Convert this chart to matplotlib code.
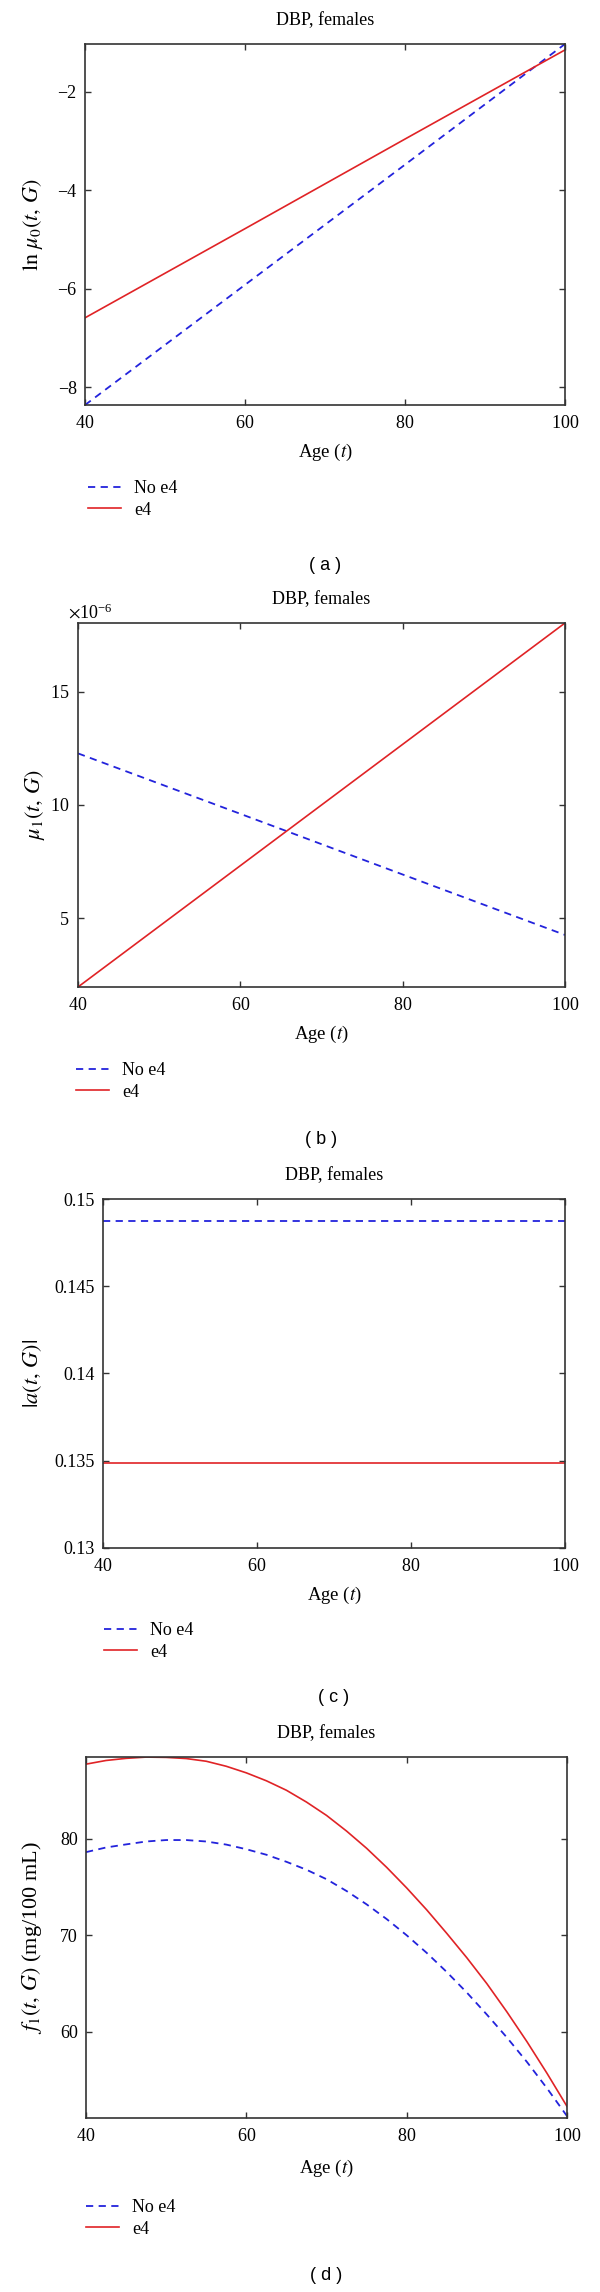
import matplotlib
matplotlib.use("Agg")
import matplotlib.pyplot as plt
from matplotlib.ticker import ScalarFormatter, FuncFormatter

plt.rcParams["font.family"] = ["Liberation Serif", "DejaVu Serif"]
plt.rcParams["mathtext.fontset"] = "stix"
plt.rcParams["axes.formatter.use_mathtext"] = True

# ---- data ----
AGE_LIN = [40, 60, 80, 100]
LN_MU0_NO_E4 = [-8.36, -5.92, -3.48, -1.03]
LN_MU0_E4 = [-6.59, -4.78, -2.96, -1.15]

MU1_NO_E4 = [12.28e-6, 9.61e-6, 6.93e-6, 4.26e-6]
MU1_E4 = [1.96e-6, 7.32e-6, 12.68e-6, 18.04e-6]

A_NO_E4 = [0.14874, 0.14874, 0.14874, 0.14874]
A_E4 = [0.13487, 0.13487, 0.13487, 0.13487]

AGE_F1 = [40, 42.5, 45, 47.5, 50, 52.5, 55, 57.5, 60, 62.5, 65, 67.5, 70,
          72.5, 75, 77.5, 80, 82.5, 85, 87.5, 90, 92.5, 95, 97.5, 100]
F1_NO_E4 = [78.6, 79.08, 79.4, 79.7, 79.85, 79.85, 79.7, 79.38, 78.9, 78.33,
            77.6, 76.78, 75.8, 74.58, 73.2, 71.68, 70.0, 68.18, 66.2, 64.08,
            61.8, 59.43, 56.9, 54.18, 51.3]
F1_E4 = [87.7, 88.08, 88.3, 88.43, 88.4, 88.28, 88.0, 87.48, 86.8, 85.98,
         85.0, 83.78, 82.4, 80.78, 79.0, 77.03, 74.9, 72.63, 70.2, 67.68,
         65.0, 62.08, 59.0, 55.73, 52.3]

X_TICKS = [40, 60, 80, 100]
YT_A = [-8, -6, -4, -2]
YT_B = [5e-6, 10e-6, 15e-6]
YT_C = [0.13, 0.135, 0.14, 0.145, 0.15]
YT_D = [60, 70, 80]

TITLE = "DBP, females"
LABELS = ["No e4", "e4"]
BLUE = "#2323dc"
RED = "#e02326"

W, H = 600, 2292
fig = plt.figure(figsize=(W / 100, H / 100), dpi=100)


def px_rect(l, r, t, b):
    return [l / W, 1 - b / H, (r - l) / W, (b - t) / H]


panels = [
    # (l, r, t, b), ylabel, ylabel x, legend (x, top), caption y, caption
    ((85, 565, 44, 405), r"$\ln\,\mu_0(t,\,G)$", 33, (88, 480), 565, "( a )"),
    ((78, 565, 623, 987), r"$\mu_1(t,\,G)$", 35, (76, 1062), 1139, "( b )"),
    ((103, 565, 1199, 1548), r"$|a(t,\,G)|$", 33, (104, 1622), 1698, "( c )"),
    ((86, 567, 1757, 2118), r"$f_1(t,\,G)$ (mg/100 mL)", 32, (86, 2199), 2275, "( d )"),
]

series = [
    (AGE_LIN, LN_MU0_NO_E4, LN_MU0_E4, YT_A, (-8.36, -1.03)),
    (AGE_LIN, MU1_NO_E4, MU1_E4, YT_B, (1.96e-6, 18.04e-6)),
    (AGE_LIN, A_NO_E4, A_E4, YT_C, (0.13, 0.15)),
    (AGE_F1, F1_NO_E4, F1_E4, YT_D, (51.1, 88.44)),
]

for i, ((l, r, t, b), ylab, ylx, (lgx, lgy), capy, cap) in enumerate(panels):
    x, y0, y1, yt, ylim = series[i]
    ax = fig.add_axes(px_rect(l, r, t, b))
    ax.plot(x, y0, color=BLUE, lw=1.3, linestyle=(0, (4, 3)), label=LABELS[0])
    ax.plot(x, y1, color=RED, lw=1.2, label=LABELS[1])
    ax.set_xlim(40, 100)
    ax.set_ylim(*ylim)
    ax.set_xticks(X_TICKS)
    ax.set_yticks(yt)
    ax.tick_params(direction="in", top=True, right=True, length=4, width=1,
                   labelsize=13, color="#333333")
    ax.tick_params(axis="x", pad=7)
    ax.tick_params(axis="y", pad=6)
    for sp in ax.spines.values():
        sp.set_linewidth(1.2)
        sp.set_color("#333333")

    if i == 1:
        fmt = ScalarFormatter(useMathText=True)
        fmt.set_powerlimits((-6, -6))
        ax.yaxis.set_major_formatter(fmt)
        ax.yaxis.get_offset_text().set_fontsize(13)
        ax.yaxis.get_offset_text().set_x(-0.02)
    else:
        ax.yaxis.set_major_formatter(
            FuncFormatter(lambda v, p: f"{v:g}".replace("-", "\u2212")))

    hpx = b - t
    wpx = r - l
    ax.set_title(TITLE, fontsize=13, y=1 + 15 / hpx, va="center")
    ax.set_xlabel("Age ($t$)", fontsize=13.5, va="center")
    ax.xaxis.set_label_coords(0.5, -(47 + (3 if i == 3 else 0)) / hpx)
    ax.set_ylabel(ylab, fontsize=16, va="center")
    ax.yaxis.set_label_coords((ylx - l) / wpx, 0.5)

    ax.legend(loc="upper left", bbox_to_anchor=(lgx / W, 1 - lgy / H),
              bbox_transform=fig.transFigure, frameon=False, fontsize=13,
              borderpad=0, borderaxespad=0, handlelength=1.85,
              handletextpad=0.7, labelspacing=0.25)

    fig.text((l + r) / 2 / W, 1 - capy / H, cap, ha="center", va="center",
             fontsize=13, family=["Liberation Sans", "DejaVu Sans"])

fig.savefig("out.png", dpi=100)
